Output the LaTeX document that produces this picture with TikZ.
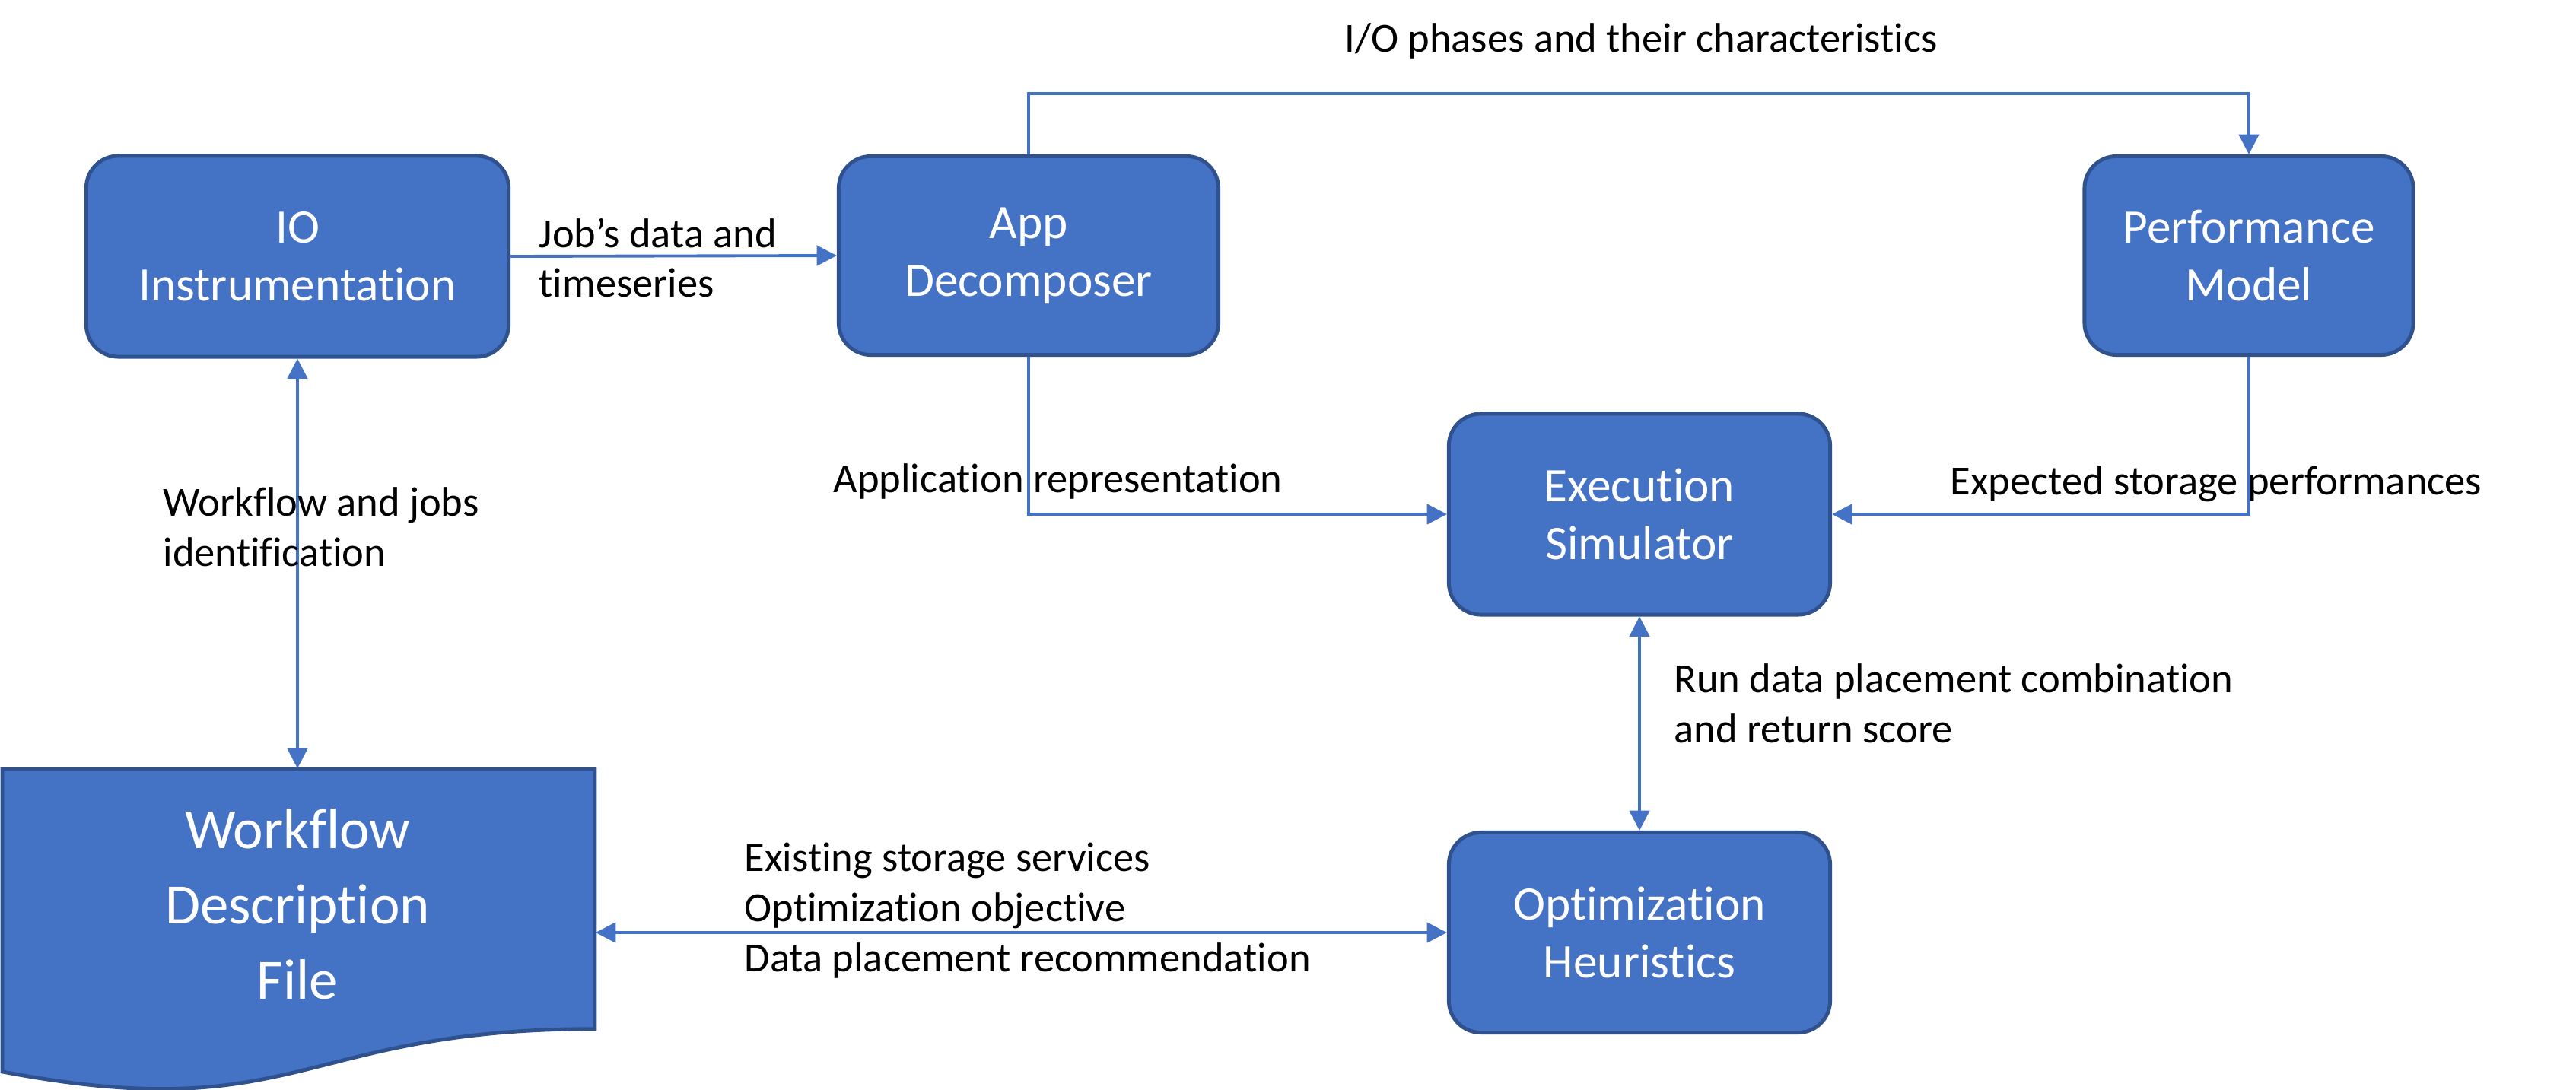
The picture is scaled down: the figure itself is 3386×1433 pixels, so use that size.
\documentclass[tikz,border=0pt]{standalone}
\usepackage{fontspec}
\setmainfont{Carlito}[Ligatures=NoCommon]
\usetikzlibrary{arrows.meta}
\definecolor{fillblue}{HTML}{4472C4}
\definecolor{edgeblue}{HTML}{2F528F}
\begin{document}
\begin{tikzpicture}[x=0.01cm,y=-0.01cm,
 box/.style={draw=edgeblue, fill=fillblue, line width=1.4pt, rounded corners=12pt, text=white, align=center, font=\fontsize{18}{21.5}\selectfont, inner sep=0pt},
 conn/.style={draw=fillblue, line width=1.1pt},
 tip/.style={-{Triangle[length=7.5pt,width=7.5pt]}},
 tips/.style={{Triangle[length=7.5pt,width=7.5pt]}-{Triangle[length=7.5pt,width=7.5pt]}},
 lbl/.style={anchor=west, align=left, font=\fontsize{15.5}{18.7}\selectfont, inner sep=0pt}]
\useasboundingbox (0,0) rectangle (3386,1433);

% boxes
\node[box, minimum width=5.55cm, minimum height=2.64cm] (io) at (391,337) {IO\\Instrumentation};
\node[box, minimum width=4.99cm, minimum height=2.61cm] (app) at (1352,336) {App\\Decomposer};
\node[box, minimum width=4.32cm, minimum height=2.61cm] (perf) at (2956,336) {Performance\\Model};
\node[box, minimum width=5.01cm, minimum height=2.64cm] (exec) at (2155,676) {Execution\\Simulator};
\node[box, minimum width=5.01cm, minimum height=2.63cm] (opt) at (2155,1226) {Optimization\\Heuristics};

% document shape
\node[minimum width=7.79cm, minimum height=4.26cm, inner sep=0pt] (doc) at (392.5,1224) {};
\draw[draw=edgeblue, fill=fillblue, line width=1.4pt]
  (3,1011) -- (782,1011) -- (782,1352.7)
  .. controls (392.5,1352.7) and (392.5,1482.8) .. (3,1408.9) -- cycle;
\node[text=white, align=center, inner sep=0pt, font=\fontsize{21.3}{28.2}\selectfont] (doctext) at (391,1189) {Workflow\\Description\\File};

% connectors
\draw[conn,tip] (io.east) -- (app.west);
\draw[conn,tip] (app.north) -- (app.north |- 0,123) -| (perf.north);
\draw[conn,tip] (app.south) |- (exec.west);
\draw[conn,tip] (perf.south) |- (exec.east);
\draw[conn,tips] (exec.south) -- (opt.north);
\draw[conn,tips] (io.south) -- (io.south |- doc.north);
\draw[conn,tips] (opt.west) -- (opt.west -| doc.east);

% labels
\node[lbl, anchor=center] (l1) at (2157,54) {I/O phases and their characteristics};
\node[lbl] (l2) at (708,339) {Job’s data and\\timeseries};
\node[lbl] (l3) at (214,693) {Workflow and jobs\\identification};
\node[lbl] (l4) at (1095,633) {Application representation};
\node[lbl] (l5) at (2563,636) {Expected storage performances};
\node[lbl] (l6) at (2200,925) {Run data placement combination\\and return score};
\node[lbl] (l7) at (978,1197) {Existing storage services\\Optimization objective\\Data placement recommendation};
\end{tikzpicture}
\end{document}
